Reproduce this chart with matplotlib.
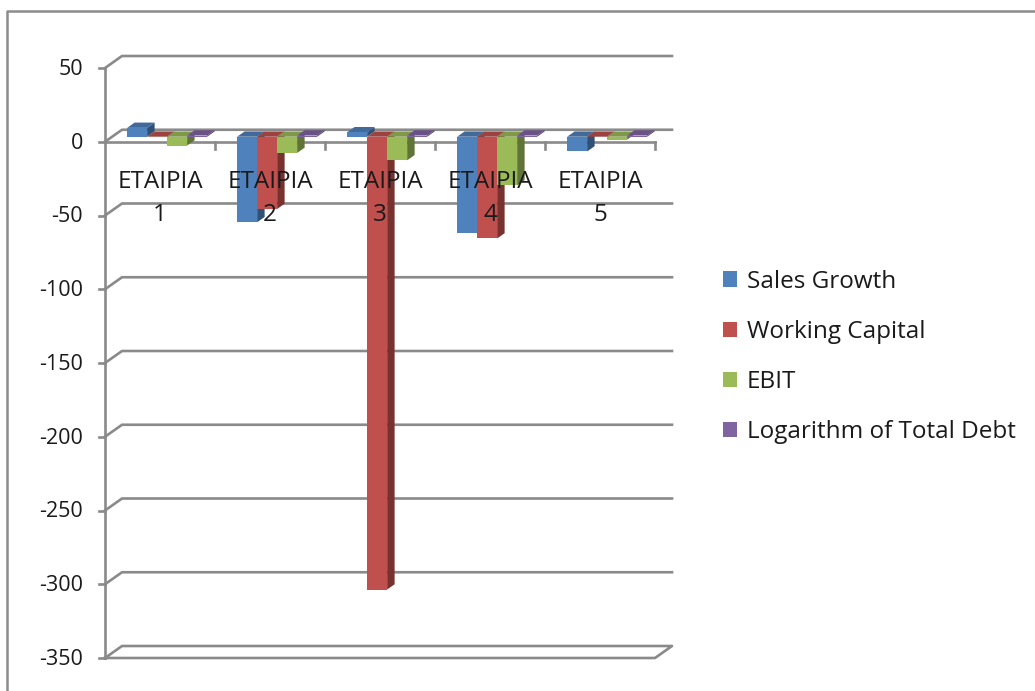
import matplotlib
matplotlib.use("Agg")
import matplotlib.pyplot as plt
from matplotlib.patches import Polygon, Patch
from matplotlib.lines import Line2D

# ---- data ----
categories = ["ETAIPIA\n1", "ETAIPIA\n2", "ETAIPIA\n3", "ETAIPIA\n4", "ETAIPIA\n5"]
series_names = ["Sales Growth", "Working Capital", "EBIT", "Logarithm of Total Debt"]
sales_growth = [6, -58, 3, -65, -10]
working_capital = [-0.5, -49, -307, -69, -0.5]
ebit = [-6, -11, -16, -33, -2]
log_total_debt = [0.8, 0.8, 0.8, 0.8, 0.8]
y_ticks = [50, 0, -50, -100, -150, -200, -250, -300, -350]

series_values = [sales_growth, working_capital, ebit, log_total_debt]
face_colors = ["#4F81BD", "#C0504D", "#9BBB59", "#8064A2"]

FONT = "Open Sans"
FS_TICK = 15.5
FS = 17.5


def shade(hex_color, k):
    r, g, b = matplotlib.colors.to_rgb(hex_color)
    return (r * k, g * k, b * k)


W, H = 1035, 691
fig = plt.figure(figsize=(W / 100, H / 100), dpi=100)
fig.patch.set_facecolor("white")

# front plane of the plot area in figure pixels
x0_px, x1_px = 105, 655
ytop_px, ybot_px = 68, 658
ax = fig.add_axes([x0_px / W, (H - ybot_px) / H, (x1_px - x0_px) / W, (ybot_px - ytop_px) / H])
ax.set_xlim(0.5, 5.5)
ax.set_ylim(-350, 50)
ax.axis("off")

px_per_cat = (x1_px - x0_px) / 5.0
px_per_val = (ybot_px - ytop_px) / 400.0
# full depth of the 3D box, expressed in data units
DX = 17 / px_per_cat
DY = 12 / px_per_val

grid_col = "#8a8a8a"
lw = 1.9


def at(x, y, f):
    return (x + f * DX, y + f * DY)


# back wall gridlines with their left side-wall diagonals
for t in y_ticks[:-1]:
    ax.add_line(Line2D([0.5, 0.5 + DX, 5.5 + DX], [t, t + DY, t + DY],
                       color=grid_col, lw=lw, zorder=1, clip_on=False,
                       solid_joinstyle="miter"))
# floor
fl = -350
ax.add_line(Line2D([0.5, 0.5 + DX, 5.5 + DX, 5.5, 0.5],
                   [fl, fl + DY, fl + DY, fl, fl],
                   color=grid_col, lw=lw, zorder=1, clip_on=False))
# vertical axis with ticks
ax.add_line(Line2D([0.5, 0.5], [-350, 50], color=grid_col, lw=lw, zorder=1, clip_on=False))
tick_len = 6 / px_per_cat
for t in y_ticks:
    ax.add_line(Line2D([0.5 - tick_len, 0.5], [t, t], color=grid_col, lw=lw,
                       zorder=1, clip_on=False))
    ax.text(0.5 - 22 / px_per_cat, t - 1, str(t), ha="right", va="center",
            fontsize=FS_TICK, family=FONT, color="#1a1a1a")
# category axis at zero with ticks between categories
ax.add_line(Line2D([0.5, 5.5], [0, 0], color=grid_col, lw=lw, zorder=1, clip_on=False))
for b in [1.5, 2.5, 3.5, 4.5, 5.5]:
    ax.add_line(Line2D([b, b], [0, -7 / px_per_val], color=grid_col, lw=lw,
                       zorder=1, clip_on=False))

# 3D columns
bar_w = 20 / px_per_cat
f0, f1 = 0.42, 0.86
n = len(series_values)
z = 3
for i in range(len(categories)):
    cx = i + 1
    left0 = cx - n * bar_w / 2
    for s in range(n):
        v = series_values[s][i]
        col = face_colors[s]
        xl = left0 + s * bar_w
        xr = xl + bar_w
        ytop = max(v, 0)
        ybot = min(v, 0)
        # right side face
        side = Polygon([at(xr, ybot, f0), at(xr, ytop, f0), at(xr, ytop, f1), at(xr, ybot, f1)],
                       closed=True, facecolor=shade(col, 0.62), edgecolor="none",
                       zorder=z, clip_on=False)
        ax.add_patch(side)
        # top face
        top_y = v if v >= 0 else 0
        top = Polygon([at(xl, top_y, f0), at(xr, top_y, f0), at(xr, top_y, f1), at(xl, top_y, f1)],
                      closed=True, facecolor=shade(col, 0.82), edgecolor="none",
                      zorder=z + 0.1, clip_on=False)
        ax.add_patch(top)
        # front face
        fx, fy = at(xl, ybot, f0)
        ax.bar(fx, ytop - ybot, width=bar_w, bottom=fy, align="edge", color=col,
               edgecolor="none", zorder=z + 0.2, clip_on=False)
        z += 0.5

# category labels
for i, lab in enumerate(categories):
    ax.text(i + 1, -19, lab, ha="center", va="top", fontsize=FS, family=FONT,
            color="#1a1a1a", linespacing=1.52, zorder=50)

# legend
handles = [Patch(facecolor=c, edgecolor="none") for c in face_colors]
leg = fig.legend(handles, series_names, loc="center left",
                 bbox_to_anchor=(723 / W, 1 - 357 / H), frameon=False,
                 prop={"family": FONT, "size": FS}, handlelength=0.58,
                 handleheight=0.58, handletextpad=0.41, labelspacing=1.08,
                 borderpad=0, borderaxespad=0)
for t in leg.get_texts():
    t.set_color("#1a1a1a")

# chart area border (top and left edges)
fig.add_artist(Line2D([7 / W, 7 / W, 1.0], [0.0, 1 - 11 / H, 1 - 11 / H],
                      transform=fig.transFigure, color="#8c8c8c", lw=1.8))

fig.savefig("out.png", dpi=100)
